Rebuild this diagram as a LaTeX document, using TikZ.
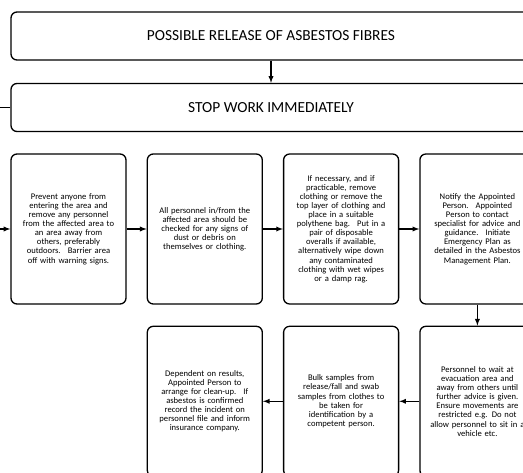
\documentclass[tikz,border=0pt]{standalone}
\usepackage{fontspec}
\setmainfont{Carlito}
\usetikzlibrary{arrows,positioning}

\begin{document}
\begin{tikzpicture}[>=latex,x=1pt,y=-1pt]
	\tikzset{head box/.style={draw,line width=1.3pt,rounded corners=6pt,minimum width=520pt,minimum height=48pt,font=\fontsize{15.4}{18}\selectfont}}
	\tikzset{step box/.style={draw,line width=1.3pt,rounded corners=6pt,minimum width=115pt,minimum height=150pt,text width=113pt,inner xsep=1pt,align=center,font=\fontsize{8.6}{9.1}\selectfont}}
	\tikzset{link/.style={->,line width=1.3pt}}
	\useasboundingbox (0,0) rectangle (523,473);
	\clip (0,0) rectangle (523,473);
	\node[head box] (release) at (271,36) {POSSIBLE RELEASE OF ASBESTOS FIBRES};
	\node[head box] (stop) at (271,107.5) {STOP WORK IMMEDIATELY};
	\node[step box] (prevent) at (68.5,229) {Prevent anyone from\\ entering the area and\\ remove any personnel\\ from the affected area to\\ an area away from\\ others, preferably\\ outdoors.~ Barrier area\\ off with warning signs.};
	\node[step box,right=20pt of prevent] (check) {All personnel in/from the\\ affected area should be\\ checked for any signs of\\ dust or debris on\\ themselves or clothing.};
	\node[step box,right=20pt of check] (clothing) {If necessary, and if\\ practicable, remove\\ clothing or remove the\\ top layer of clothing and\\ place in a suitable\\ polythene bag.~ Put in a\\ pair of disposable\\ overalls if available,\\ alternatively wipe down\\ any contaminated\\ clothing with wet wipes\\ or a damp rag.};
	\node[step box,right=20pt of clothing] (notify) {Notify the Appointed\\ Person.~ Appointed\\ Person to contact\\ specialist for advice and\\ guidance.~ Initiate\\ Emergency Plan as\\ detailed in the Asbestos\\ Management Plan.};
	\node[step box,below=21pt of notify] (wait) {Personnel to wait at\\ evacuation area and\\ away from others until\\ further advice is given.\\ Ensure movements are\\ restricted e.g. Do not\\ allow personnel to sit in a\\ vehicle etc.};
	\node[step box,below=21pt of clothing] (samples) {Bulk samples from\\ release/fall and swab\\ samples from clothes to\\ be taken for\\ identification by a\\ competent person.};
	\node[step box,below=21pt of check] (cleanup) {Dependent on results,\\ Appointed Person to\\ arrange for clean-up.~ If\\ asbestos is confirmed\\ record the incident on\\ personnel file and inform\\ insurance company.};
	\coordinate (bend) at (-10,0);

	\draw[link] (release) -- (stop);
	\draw[link] (stop.west) -| (bend |- prevent) -- (prevent);
	\foreach \a/\b in {prevent/check,check/clothing,clothing/notify,notify/wait,wait/samples,samples/cleanup}
		\draw[link] (\a) -- (\b);
\end{tikzpicture}
\end{document}
